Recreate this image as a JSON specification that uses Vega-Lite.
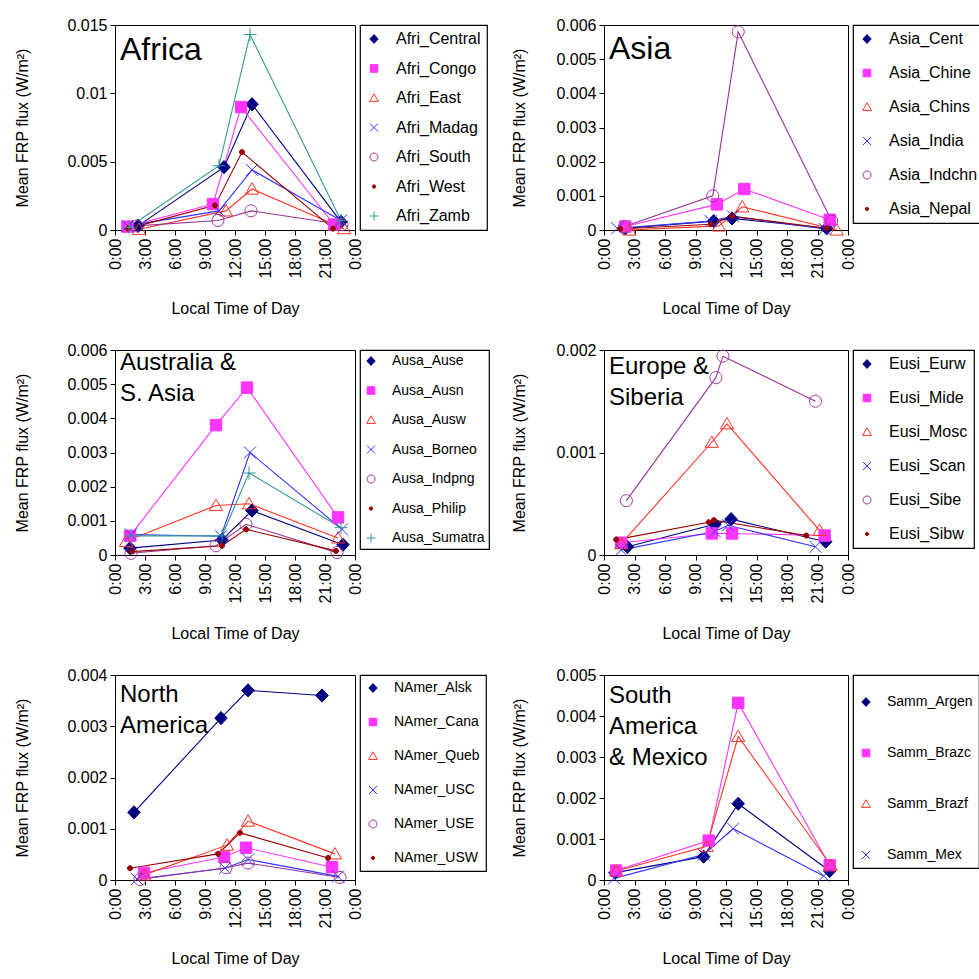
{
  "$schema": "https://vega.github.io/schema/vega-lite/v6.json",
  "background": "white",
  "padding": {"left": 14, "top": 16, "right": 4, "bottom": 4},
  "data": {"values": [
    {"region":"Africa","series":"Afri_Central","hour":2.3,"flux":0.0003},
    {"region":"Africa","series":"Afri_Central","hour":10.9,"flux":0.0046},
    {"region":"Africa","series":"Afri_Central","hour":13.7,"flux":0.0092},
    {"region":"Africa","series":"Afri_Central","hour":22.6,"flux":0.0006},
    {"region":"Africa","series":"Afri_Congo","hour":1.25,"flux":0.00025},
    {"region":"Africa","series":"Afri_Congo","hour":9.8,"flux":0.0019},
    {"region":"Africa","series":"Afri_Congo","hour":12.6,"flux":0.009},
    {"region":"Africa","series":"Afri_Congo","hour":21.9,"flux":0.0004},
    {"region":"Africa","series":"Afri_East","hour":2.4,"flux":0.00005},
    {"region":"Africa","series":"Afri_East","hour":11.1,"flux":0.0014},
    {"region":"Africa","series":"Afri_East","hour":13.7,"flux":0.003},
    {"region":"Africa","series":"Afri_East","hour":22.9,"flux":0.0001},
    {"region":"Africa","series":"Afri_Madag","hour":1.25,"flux":0.0003},
    {"region":"Africa","series":"Afri_Madag","hour":10.4,"flux":0.0014},
    {"region":"Africa","series":"Afri_Madag","hour":13.7,"flux":0.0044},
    {"region":"Africa","series":"Afri_Madag","hour":22.6,"flux":0.0007},
    {"region":"Africa","series":"Afri_South","hour":2.2,"flux":0.0003},
    {"region":"Africa","series":"Afri_South","hour":10.3,"flux":0.0007},
    {"region":"Africa","series":"Afri_South","hour":13.6,"flux":0.0014},
    {"region":"Africa","series":"Afri_South","hour":22.7,"flux":0.0004},
    {"region":"Africa","series":"Afri_West","hour":1.3,"flux":0.0001},
    {"region":"Africa","series":"Afri_West","hour":10.0,"flux":0.0018},
    {"region":"Africa","series":"Afri_West","hour":12.7,"flux":0.0057},
    {"region":"Africa","series":"Afri_West","hour":21.8,"flux":0.0001},
    {"region":"Africa","series":"Afri_Zamb","hour":1.4,"flux":0.0002},
    {"region":"Africa","series":"Afri_Zamb","hour":10.4,"flux":0.0047},
    {"region":"Africa","series":"Afri_Zamb","hour":13.5,"flux":0.0143},
    {"region":"Africa","series":"Afri_Zamb","hour":22.6,"flux":0.0007},

    {"region":"Asia","series":"Asia_Cent","hour":2.1,"flux":0.00005},
    {"region":"Asia","series":"Asia_Cent","hour":10.8,"flux":0.00026},
    {"region":"Asia","series":"Asia_Cent","hour":12.6,"flux":0.00034},
    {"region":"Asia","series":"Asia_Cent","hour":21.9,"flux":0.00005},
    {"region":"Asia","series":"Asia_Chine","hour":2.1,"flux":0.0001},
    {"region":"Asia","series":"Asia_Chine","hour":11.1,"flux":0.00075},
    {"region":"Asia","series":"Asia_Chine","hour":13.8,"flux":0.0012},
    {"region":"Asia","series":"Asia_Chine","hour":22.2,"flux":0.0003},
    {"region":"Asia","series":"Asia_Chins","hour":2.5,"flux":0.0},
    {"region":"Asia","series":"Asia_Chins","hour":11.3,"flux":0.00012},
    {"region":"Asia","series":"Asia_Chins","hour":13.6,"flux":0.00068},
    {"region":"Asia","series":"Asia_Chins","hour":22.9,"flux":0.0},
    {"region":"Asia","series":"Asia_India","hour":1.3,"flux":0.00005},
    {"region":"Asia","series":"Asia_India","hour":10.5,"flux":0.00026},
    {"region":"Asia","series":"Asia_India","hour":12.7,"flux":0.0004},
    {"region":"Asia","series":"Asia_India","hour":21.7,"flux":0.00003},
    {"region":"Asia","series":"Asia_Indchn","hour":2.0,"flux":0.0001},
    {"region":"Asia","series":"Asia_Indchn","hour":10.7,"flux":0.001},
    {"region":"Asia","series":"Asia_Indchn","hour":13.2,"flux":0.0058},
    {"region":"Asia","series":"Asia_Indchn","hour":22.4,"flux":0.00026},
    {"region":"Asia","series":"Asia_Nepal","hour":1.6,"flux":0.00003},
    {"region":"Asia","series":"Asia_Nepal","hour":10.5,"flux":0.00017},
    {"region":"Asia","series":"Asia_Nepal","hour":12.6,"flux":0.0004},
    {"region":"Asia","series":"Asia_Nepal","hour":21.9,"flux":0.00005},

    {"region":"Australia","series":"Ausa_Ause","hour":1.5,"flux":0.0002},
    {"region":"Australia","series":"Ausa_Ause","hour":10.7,"flux":0.00044},
    {"region":"Australia","series":"Ausa_Ause","hour":13.7,"flux":0.0013},
    {"region":"Australia","series":"Ausa_Ause","hour":22.8,"flux":0.0003},
    {"region":"Australia","series":"Ausa_Ausn","hour":1.5,"flux":0.00056},
    {"region":"Australia","series":"Ausa_Ausn","hour":10.1,"flux":0.0038},
    {"region":"Australia","series":"Ausa_Ausn","hour":13.2,"flux":0.0049},
    {"region":"Australia","series":"Ausa_Ausn","hour":22.3,"flux":0.0011},
    {"region":"Australia","series":"Ausa_Ausw","hour":1.1,"flux":0.0004},
    {"region":"Australia","series":"Ausa_Ausw","hour":10.1,"flux":0.00145},
    {"region":"Australia","series":"Ausa_Ausw","hour":13.4,"flux":0.0015},
    {"region":"Australia","series":"Ausa_Ausw","hour":22.3,"flux":0.0005},
    {"region":"Australia","series":"Ausa_Borneo","hour":1.6,"flux":0.0006},
    {"region":"Australia","series":"Ausa_Borneo","hour":10.6,"flux":0.00055},
    {"region":"Australia","series":"Ausa_Borneo","hour":13.5,"flux":0.003},
    {"region":"Australia","series":"Ausa_Borneo","hour":22.7,"flux":0.00075},
    {"region":"Australia","series":"Ausa_Indpng","hour":1.6,"flux":0.00005},
    {"region":"Australia","series":"Ausa_Indpng","hour":10.1,"flux":0.00027},
    {"region":"Australia","series":"Ausa_Indpng","hour":13.1,"flux":0.0009},
    {"region":"Australia","series":"Ausa_Indpng","hour":22.2,"flux":0.00007},
    {"region":"Australia","series":"Ausa_Philip","hour":1.7,"flux":0.0001},
    {"region":"Australia","series":"Ausa_Philip","hour":10.7,"flux":0.00027},
    {"region":"Australia","series":"Ausa_Philip","hour":13.1,"flux":0.00075},
    {"region":"Australia","series":"Ausa_Philip","hour":22.1,"flux":0.00012},
    {"region":"Australia","series":"Ausa_Sumatra","hour":1.6,"flux":0.00056},
    {"region":"Australia","series":"Ausa_Sumatra","hour":10.7,"flux":0.00056},
    {"region":"Australia","series":"Ausa_Sumatra","hour":13.4,"flux":0.0024},
    {"region":"Australia","series":"Ausa_Sumatra","hour":22.6,"flux":0.0008},

    {"region":"Europe","series":"Eusi_Eurw","hour":2.3,"flux":0.00008},
    {"region":"Europe","series":"Eusi_Eurw","hour":10.9,"flux":0.0003},
    {"region":"Europe","series":"Eusi_Eurw","hour":12.5,"flux":0.00035},
    {"region":"Europe","series":"Eusi_Eurw","hour":21.8,"flux":0.00013},
    {"region":"Europe","series":"Eusi_Mide","hour":1.7,"flux":0.00012},
    {"region":"Europe","series":"Eusi_Mide","hour":10.6,"flux":0.00021},
    {"region":"Europe","series":"Eusi_Mide","hour":12.6,"flux":0.00021},
    {"region":"Europe","series":"Eusi_Mide","hour":21.7,"flux":0.00019},
    {"region":"Europe","series":"Eusi_Mosc","hour":1.7,"flux":0.00011},
    {"region":"Europe","series":"Eusi_Mosc","hour":10.6,"flux":0.0011},
    {"region":"Europe","series":"Eusi_Mosc","hour":12.1,"flux":0.00128},
    {"region":"Europe","series":"Eusi_Mosc","hour":21.2,"flux":0.00024},
    {"region":"Europe","series":"Eusi_Scan","hour":1.7,"flux":0.00005},
    {"region":"Europe","series":"Eusi_Scan","hour":10.9,"flux":0.00023},
    {"region":"Europe","series":"Eusi_Scan","hour":12.2,"flux":0.00029},
    {"region":"Europe","series":"Eusi_Scan","hour":20.8,"flux":0.00008},
    {"region":"Europe","series":"Eusi_Sibe","hour":2.2,"flux":0.00053},
    {"region":"Europe","series":"Eusi_Sibe","hour":11.0,"flux":0.00173},
    {"region":"Europe","series":"Eusi_Sibe","hour":11.7,"flux":0.00194},
    {"region":"Europe","series":"Eusi_Sibe","hour":20.8,"flux":0.0015},
    {"region":"Europe","series":"Eusi_Sibw","hour":1.2,"flux":0.00015},
    {"region":"Europe","series":"Eusi_Sibw","hour":10.3,"flux":0.00032},
    {"region":"Europe","series":"Eusi_Sibw","hour":10.8,"flux":0.00034},
    {"region":"Europe","series":"Eusi_Sibw","hour":19.9,"flux":0.00019},

    {"region":"NAmerica","series":"NAmer_Alsk","hour":1.9,"flux":0.00132},
    {"region":"NAmerica","series":"NAmer_Alsk","hour":10.6,"flux":0.00316},
    {"region":"NAmerica","series":"NAmer_Alsk","hour":13.3,"flux":0.0037},
    {"region":"NAmerica","series":"NAmer_Alsk","hour":20.7,"flux":0.0036},
    {"region":"NAmerica","series":"NAmer_Cana","hour":2.9,"flux":0.00014},
    {"region":"NAmerica","series":"NAmer_Cana","hour":10.9,"flux":0.00045},
    {"region":"NAmerica","series":"NAmer_Cana","hour":13.1,"flux":0.00063},
    {"region":"NAmerica","series":"NAmer_Cana","hour":21.7,"flux":0.00025},
    {"region":"NAmerica","series":"NAmer_Queb","hour":2.9,"flux":0.0001},
    {"region":"NAmerica","series":"NAmer_Queb","hour":11.2,"flux":0.00068},
    {"region":"NAmerica","series":"NAmer_Queb","hour":13.3,"flux":0.00115},
    {"region":"NAmerica","series":"NAmer_Queb","hour":22.0,"flux":0.00051},
    {"region":"NAmerica","series":"NAmer_USC","hour":2.2,"flux":0.00002},
    {"region":"NAmerica","series":"NAmer_USC","hour":11.0,"flux":0.00023},
    {"region":"NAmerica","series":"NAmer_USC","hour":13.3,"flux":0.0004},
    {"region":"NAmerica","series":"NAmer_USC","hour":22.3,"flux":0.00007},
    {"region":"NAmerica","series":"NAmer_USE","hour":2.5,"flux":0.00001},
    {"region":"NAmerica","series":"NAmer_USE","hour":11.1,"flux":0.00024},
    {"region":"NAmerica","series":"NAmer_USE","hour":13.3,"flux":0.00033},
    {"region":"NAmerica","series":"NAmer_USE","hour":22.5,"flux":0.00005},
    {"region":"NAmerica","series":"NAmer_USW","hour":1.5,"flux":0.00023},
    {"region":"NAmerica","series":"NAmer_USW","hour":10.3,"flux":0.00051},
    {"region":"NAmerica","series":"NAmer_USW","hour":12.5,"flux":0.00092},
    {"region":"NAmerica","series":"NAmer_USW","hour":21.3,"flux":0.00043},

    {"region":"SAmerica","series":"Samm_Argen","hour":1.1,"flux":0.00018},
    {"region":"SAmerica","series":"Samm_Argen","hour":9.8,"flux":0.00057},
    {"region":"SAmerica","series":"Samm_Argen","hour":13.2,"flux":0.00186},
    {"region":"SAmerica","series":"Samm_Argen","hour":22.2,"flux":0.00022},
    {"region":"SAmerica","series":"Samm_Brazc","hour":1.2,"flux":0.00023},
    {"region":"SAmerica","series":"Samm_Brazc","hour":10.3,"flux":0.00096},
    {"region":"SAmerica","series":"Samm_Brazc","hour":13.2,"flux":0.00432},
    {"region":"SAmerica","series":"Samm_Brazc","hour":22.2,"flux":0.00036},
    {"region":"SAmerica","series":"Samm_Brazf","hour":1.2,"flux":0.00022},
    {"region":"SAmerica","series":"Samm_Brazf","hour":10.1,"flux":0.00082},
    {"region":"SAmerica","series":"Samm_Brazf","hour":13.2,"flux":0.0035},
    {"region":"SAmerica","series":"Samm_Brazf","hour":22.3,"flux":0.00036},
    {"region":"SAmerica","series":"Samm_Mex","hour":1.0,"flux":0.00004},
    {"region":"SAmerica","series":"Samm_Mex","hour":9.8,"flux":0.00062},
    {"region":"SAmerica","series":"Samm_Mex","hour":12.7,"flux":0.00125},
    {"region":"SAmerica","series":"Samm_Mex","hour":21.6,"flux":0.0001}
  ]},
  "columns": 2,
  "spacing": {"row": 24, "column": 20},
  "resolve": {
    "scale": {"x": "independent", "y": "independent", "stroke": "independent", "fill": "independent", "shape": "independent"},
    "axis": {"x": "independent", "y": "independent"},
    "legend": {"stroke": "independent", "fill": "independent", "shape": "independent"}
  },
  "concat": [
    {
      "width": 240, "height": 205,
      "title": {"text": "Africa", "fontSize": 32, "offset": -50},
      "transform": [{"filter": "datum.region == 'Africa'"}],
      "encoding": {
        "x": {"field": "hour", "type": "quantitative", "scale": {"domain": [0, 24], "nice": false, "zero": false},
              "axis": {"values": [0,3,6,9,12,15,18,21,24], "labelExpr": "(datum.value % 24) + ':00'", "labelAngle": -90, "title": "Local Time of Day", "titlePadding": 22}},
        "y": {"field": "flux", "type": "quantitative", "scale": {"domain": [0, 0.015], "nice": false},
              "axis": {"values": [0, 0.005, 0.01, 0.015], "format": "~f", "title": "Mean FRP flux (W/m²)", "titlePadding": 36}}
      },
      "layer": [
        {"mark": {"type": "line", "strokeWidth": 1.1},
         "encoding": {"stroke": {"field": "series", "type": "nominal",
            "scale": {"domain": ["Afri_Central","Afri_Congo","Afri_East","Afri_Madag","Afri_South","Afri_West","Afri_Zamb"], "range": ["#000080","#ff33ff","#ff3322","#3333ff","#993399","#990000","#339999"]}}}},
        {"mark": {"type": "point", "size": 144, "strokeWidth": 1, "opacity": 1},
         "encoding": {
           "stroke": {"field": "series", "type": "nominal",
             "scale": {"domain": ["Afri_Central","Afri_Congo","Afri_East","Afri_Madag","Afri_South","Afri_West","Afri_Zamb"], "range": ["#000080","#ff33ff","#ff3322","#3333ff","#993399","#990000","#339999"]},
             "legend": {"title": null, "labelFontSize": 16, "rowPadding": 13.5}},
           "fill": {"field": "series", "type": "nominal",
             "scale": {"domain": ["Afri_Central","Afri_Congo","Afri_East","Afri_Madag","Afri_South","Afri_West","Afri_Zamb"], "range": ["#000080","#ff33ff","transparent","transparent","transparent","#990000","transparent"]}},
           "shape": {"field": "series", "type": "nominal",
             "scale": {"domain": ["Afri_Central","Afri_Congo","Afri_East","Afri_Madag","Afri_South","Afri_West","Afri_Zamb"], "range": ["M0,-1.1L1.05,0L0,1.1L-1.05,0Z","M-0.95,-0.95L0.95,-0.95L0.95,0.95L-0.95,0.95Z","M0,-1.05L1.1,0.85L-1.1,0.85Z","M-1,-1L1,1M-1,1L1,-1","M-1,0A1,1,0,1,0,1,0A1,1,0,1,0,-1,0Z","M-0.42,0A0.42,0.42,0,1,0,0.42,0A0.42,0.42,0,1,0,-0.42,0Z","M-1.1,0L1.1,0M0,-1.1L0,1.1"]}}
         }}
      ]
    },
    {
      "width": 244, "height": 205,
      "title": {"text": "Asia", "fontSize": 32, "offset": -49},
      "transform": [{"filter": "datum.region == 'Asia'"}],
      "encoding": {
        "x": {"field": "hour", "type": "quantitative", "scale": {"domain": [0, 24], "nice": false, "zero": false},
              "axis": {"values": [0,3,6,9,12,15,18,21,24], "labelExpr": "(datum.value % 24) + ':00'", "labelAngle": -90, "title": "Local Time of Day", "titlePadding": 22}},
        "y": {"field": "flux", "type": "quantitative", "scale": {"domain": [0, 0.006], "nice": false},
              "axis": {"values": [0, 0.001, 0.002, 0.003, 0.004, 0.005, 0.006], "format": "~f", "title": "Mean FRP flux (W/m²)", "titlePadding": 28}}
      },
      "layer": [
        {"mark": {"type": "line", "strokeWidth": 1.1},
         "encoding": {"stroke": {"field": "series", "type": "nominal",
            "scale": {"domain": ["Asia_Cent","Asia_Chine","Asia_Chins","Asia_India","Asia_Indchn","Asia_Nepal"], "range": ["#000080","#ff33ff","#ff3322","#3333ff","#993399","#990000"]}}}},
        {"mark": {"type": "point", "size": 144, "strokeWidth": 1, "opacity": 1},
         "encoding": {
           "stroke": {"field": "series", "type": "nominal",
             "scale": {"domain": ["Asia_Cent","Asia_Chine","Asia_Chins","Asia_India","Asia_Indchn","Asia_Nepal"], "range": ["#000080","#ff33ff","#ff3322","#3333ff","#993399","#990000"]},
             "legend": {"title": null, "labelFontSize": 16, "rowPadding": 18}},
           "fill": {"field": "series", "type": "nominal",
             "scale": {"domain": ["Asia_Cent","Asia_Chine","Asia_Chins","Asia_India","Asia_Indchn","Asia_Nepal"], "range": ["#000080","#ff33ff","transparent","transparent","transparent","#990000"]}},
           "shape": {"field": "series", "type": "nominal",
             "scale": {"domain": ["Asia_Cent","Asia_Chine","Asia_Chins","Asia_India","Asia_Indchn","Asia_Nepal"], "range": ["M0,-1.1L1.05,0L0,1.1L-1.05,0Z","M-0.95,-0.95L0.95,-0.95L0.95,0.95L-0.95,0.95Z","M0,-1.05L1.1,0.85L-1.1,0.85Z","M-1,-1L1,1M-1,1L1,-1","M-1,0A1,1,0,1,0,1,0A1,1,0,1,0,-1,0Z","M-0.42,0A0.42,0.42,0,1,0,0.42,0A0.42,0.42,0,1,0,-0.42,0Z"]}}
         }}
      ]
    },
    {
      "width": 240, "height": 205,
      "title": {"text": ["Australia &", "S. Asia"], "fontSize": 24, "offset": -64},
      "transform": [{"filter": "datum.region == 'Australia'"}],
      "encoding": {
        "x": {"field": "hour", "type": "quantitative", "scale": {"domain": [0, 24], "nice": false, "zero": false},
              "axis": {"values": [0,3,6,9,12,15,18,21,24], "labelExpr": "(datum.value % 24) + ':00'", "labelAngle": -90, "title": "Local Time of Day", "titlePadding": 22}},
        "y": {"field": "flux", "type": "quantitative", "scale": {"domain": [0, 0.006], "nice": false},
              "axis": {"values": [0, 0.001, 0.002, 0.003, 0.004, 0.005, 0.006], "format": "~f", "title": "Mean FRP flux (W/m²)", "titlePadding": 36}}
      },
      "layer": [
        {"mark": {"type": "line", "strokeWidth": 1.1},
         "encoding": {"stroke": {"field": "series", "type": "nominal",
            "scale": {"domain": ["Ausa_Ause","Ausa_Ausn","Ausa_Ausw","Ausa_Borneo","Ausa_Indpng","Ausa_Philip","Ausa_Sumatra"], "range": ["#000080","#ff33ff","#ff3322","#3333ff","#993399","#990000","#339999"]}}}},
        {"mark": {"type": "point", "size": 144, "strokeWidth": 1, "opacity": 1},
         "encoding": {
           "stroke": {"field": "series", "type": "nominal",
             "scale": {"domain": ["Ausa_Ause","Ausa_Ausn","Ausa_Ausw","Ausa_Borneo","Ausa_Indpng","Ausa_Philip","Ausa_Sumatra"], "range": ["#000080","#ff33ff","#ff3322","#3333ff","#993399","#990000","#339999"]},
             "legend": {"title": null, "labelFontSize": 14, "rowPadding": 15.5, "padding": 4}},
           "fill": {"field": "series", "type": "nominal",
             "scale": {"domain": ["Ausa_Ause","Ausa_Ausn","Ausa_Ausw","Ausa_Borneo","Ausa_Indpng","Ausa_Philip","Ausa_Sumatra"], "range": ["#000080","#ff33ff","transparent","transparent","transparent","#990000","transparent"]}},
           "shape": {"field": "series", "type": "nominal",
             "scale": {"domain": ["Ausa_Ause","Ausa_Ausn","Ausa_Ausw","Ausa_Borneo","Ausa_Indpng","Ausa_Philip","Ausa_Sumatra"], "range": ["M0,-1.1L1.05,0L0,1.1L-1.05,0Z","M-0.95,-0.95L0.95,-0.95L0.95,0.95L-0.95,0.95Z","M0,-1.05L1.1,0.85L-1.1,0.85Z","M-1,-1L1,1M-1,1L1,-1","M-1,0A1,1,0,1,0,1,0A1,1,0,1,0,-1,0Z","M-0.42,0A0.42,0.42,0,1,0,0.42,0A0.42,0.42,0,1,0,-0.42,0Z","M-1.1,0L1.1,0M0,-1.1L0,1.1"]}}
         }}
      ]
    },
    {
      "width": 244, "height": 205,
      "title": {"text": ["Europe &", "Siberia"], "fontSize": 24, "offset": -68},
      "transform": [{"filter": "datum.region == 'Europe'"}],
      "encoding": {
        "x": {"field": "hour", "type": "quantitative", "scale": {"domain": [0, 24], "nice": false, "zero": false},
              "axis": {"values": [0,3,6,9,12,15,18,21,24], "labelExpr": "(datum.value % 24) + ':00'", "labelAngle": -90, "title": "Local Time of Day", "titlePadding": 22}},
        "y": {"field": "flux", "type": "quantitative", "scale": {"domain": [0, 0.002], "nice": false},
              "axis": {"values": [0, 0.001, 0.002], "format": "~f", "title": "Mean FRP flux (W/m²)", "titlePadding": 28}}
      },
      "layer": [
        {"mark": {"type": "line", "strokeWidth": 1.1},
         "encoding": {"stroke": {"field": "series", "type": "nominal",
            "scale": {"domain": ["Eusi_Eurw","Eusi_Mide","Eusi_Mosc","Eusi_Scan","Eusi_Sibe","Eusi_Sibw"], "range": ["#000080","#ff33ff","#ff3322","#3333ff","#993399","#990000"]}}}},
        {"mark": {"type": "point", "size": 144, "strokeWidth": 1, "opacity": 1},
         "encoding": {
           "stroke": {"field": "series", "type": "nominal",
             "scale": {"domain": ["Eusi_Eurw","Eusi_Mide","Eusi_Mosc","Eusi_Scan","Eusi_Sibe","Eusi_Sibw"], "range": ["#000080","#ff33ff","#ff3322","#3333ff","#993399","#990000"]},
             "legend": {"title": null, "labelFontSize": 16, "rowPadding": 18}},
           "fill": {"field": "series", "type": "nominal",
             "scale": {"domain": ["Eusi_Eurw","Eusi_Mide","Eusi_Mosc","Eusi_Scan","Eusi_Sibe","Eusi_Sibw"], "range": ["#000080","#ff33ff","transparent","transparent","transparent","#990000"]}},
           "shape": {"field": "series", "type": "nominal",
             "scale": {"domain": ["Eusi_Eurw","Eusi_Mide","Eusi_Mosc","Eusi_Scan","Eusi_Sibe","Eusi_Sibw"], "range": ["M0,-1.1L1.05,0L0,1.1L-1.05,0Z","M-0.95,-0.95L0.95,-0.95L0.95,0.95L-0.95,0.95Z","M0,-1.05L1.1,0.85L-1.1,0.85Z","M-1,-1L1,1M-1,1L1,-1","M-1,0A1,1,0,1,0,1,0A1,1,0,1,0,-1,0Z","M-0.42,0A0.42,0.42,0,1,0,0.42,0A0.42,0.42,0,1,0,-0.42,0Z"]}}
         }}
      ]
    },
    {
      "width": 240, "height": 205,
      "title": {"text": ["North", "America"], "fontSize": 24, "offset": -71},
      "transform": [{"filter": "datum.region == 'NAmerica'"}],
      "encoding": {
        "x": {"field": "hour", "type": "quantitative", "scale": {"domain": [0, 24], "nice": false, "zero": false},
              "axis": {"values": [0,3,6,9,12,15,18,21,24], "labelExpr": "(datum.value % 24) + ':00'", "labelAngle": -90, "title": "Local Time of Day", "titlePadding": 22}},
        "y": {"field": "flux", "type": "quantitative", "scale": {"domain": [0, 0.004], "nice": false},
              "axis": {"values": [0, 0.001, 0.002, 0.003, 0.004], "format": "~f", "title": "Mean FRP flux (W/m²)", "titlePadding": 36}}
      },
      "layer": [
        {"mark": {"type": "line", "strokeWidth": 1.1},
         "encoding": {"stroke": {"field": "series", "type": "nominal",
            "scale": {"domain": ["NAmer_Alsk","NAmer_Cana","NAmer_Queb","NAmer_USC","NAmer_USE","NAmer_USW"], "range": ["#000080","#ff33ff","#ff3322","#3333ff","#993399","#990000"]}}}},
        {"mark": {"type": "point", "size": 144, "strokeWidth": 1, "opacity": 1},
         "encoding": {
           "stroke": {"field": "series", "type": "nominal",
             "scale": {"domain": ["NAmer_Alsk","NAmer_Cana","NAmer_Queb","NAmer_USC","NAmer_USE","NAmer_USW"], "range": ["#000080","#ff33ff","#ff3322","#3333ff","#993399","#990000"]},
             "legend": {"title": null, "labelFontSize": 14, "rowPadding": 20}},
           "fill": {"field": "series", "type": "nominal",
             "scale": {"domain": ["NAmer_Alsk","NAmer_Cana","NAmer_Queb","NAmer_USC","NAmer_USE","NAmer_USW"], "range": ["#000080","#ff33ff","transparent","transparent","transparent","#990000"]}},
           "shape": {"field": "series", "type": "nominal",
             "scale": {"domain": ["NAmer_Alsk","NAmer_Cana","NAmer_Queb","NAmer_USC","NAmer_USE","NAmer_USW"], "range": ["M0,-1.1L1.05,0L0,1.1L-1.05,0Z","M-0.95,-0.95L0.95,-0.95L0.95,0.95L-0.95,0.95Z","M0,-1.05L1.1,0.85L-1.1,0.85Z","M-1,-1L1,1M-1,1L1,-1","M-1,0A1,1,0,1,0,1,0A1,1,0,1,0,-1,0Z","M-0.42,0A0.42,0.42,0,1,0,0.42,0A0.42,0.42,0,1,0,-0.42,0Z"]}}
         }}
      ]
    },
    {
      "width": 244, "height": 205,
      "title": {"text": ["South", "America", "& Mexico"], "fontSize": 24, "offset": -103},
      "transform": [{"filter": "datum.region == 'SAmerica'"}],
      "encoding": {
        "x": {"field": "hour", "type": "quantitative", "scale": {"domain": [0, 24], "nice": false, "zero": false},
              "axis": {"values": [0,3,6,9,12,15,18,21,24], "labelExpr": "(datum.value % 24) + ':00'", "labelAngle": -90, "title": "Local Time of Day", "titlePadding": 22}},
        "y": {"field": "flux", "type": "quantitative", "scale": {"domain": [0, 0.005], "nice": false},
              "axis": {"values": [0, 0.001, 0.002, 0.003, 0.004, 0.005], "format": "~f", "title": "Mean FRP flux (W/m²)", "titlePadding": 28}}
      },
      "layer": [
        {"mark": {"type": "line", "strokeWidth": 1.1},
         "encoding": {"stroke": {"field": "series", "type": "nominal",
            "scale": {"domain": ["Samm_Argen","Samm_Brazc","Samm_Brazf","Samm_Mex"], "range": ["#000080","#ff33ff","#ff3322","#3333ff"]}}}},
        {"mark": {"type": "point", "size": 144, "strokeWidth": 1, "opacity": 1},
         "encoding": {
           "stroke": {"field": "series", "type": "nominal",
             "scale": {"domain": ["Samm_Argen","Samm_Brazc","Samm_Brazf","Samm_Mex"], "range": ["#000080","#ff33ff","#ff3322","#3333ff"]},
             "legend": {"title": " ", "titleFontSize": 10, "titlePadding": 4, "labelFontSize": 14, "rowPadding": 37}},
           "fill": {"field": "series", "type": "nominal",
             "scale": {"domain": ["Samm_Argen","Samm_Brazc","Samm_Brazf","Samm_Mex"], "range": ["#000080","#ff33ff","transparent","transparent"]}},
           "shape": {"field": "series", "type": "nominal",
             "scale": {"domain": ["Samm_Argen","Samm_Brazc","Samm_Brazf","Samm_Mex"], "range": ["M0,-1.1L1.05,0L0,1.1L-1.05,0Z","M-0.95,-0.95L0.95,-0.95L0.95,0.95L-0.95,0.95Z","M0,-1.05L1.1,0.85L-1.1,0.85Z","M-1,-1L1,1M-1,1L1,-1"]}}
         }}
      ]
    }
  ],
  "config": {
    "font": "Liberation Sans",
    "view": {"stroke": "#000", "strokeWidth": 1},
    "axis": {"domainColor": "#000", "tickColor": "#000", "labelColor": "#000", "titleColor": "#000",
             "labelFontSize": 16, "titleFontSize": 16, "titleFontWeight": "normal", "grid": false,
             "tickSize": 5, "labelPadding": 3, "labelFlush": false, "labelOverlap": false, "labelBound": false},
    "legend": {"orient": "right", "offset": 5, "padding": 6, "strokeColor": "#000", "strokeWidth": 1.2,
               "symbolSize": 64, "symbolStrokeWidth": 1, "labelOffset": 14, "labelColor": "#000",
               "labelFont": "Liberation Sans", "titleColor": "#000"},
    "title": {"anchor": "start", "frame": "group", "baseline": "top", "fontWeight": "normal", "color": "#000", "dx": 5, "lineHeight": 31}
  }
}
